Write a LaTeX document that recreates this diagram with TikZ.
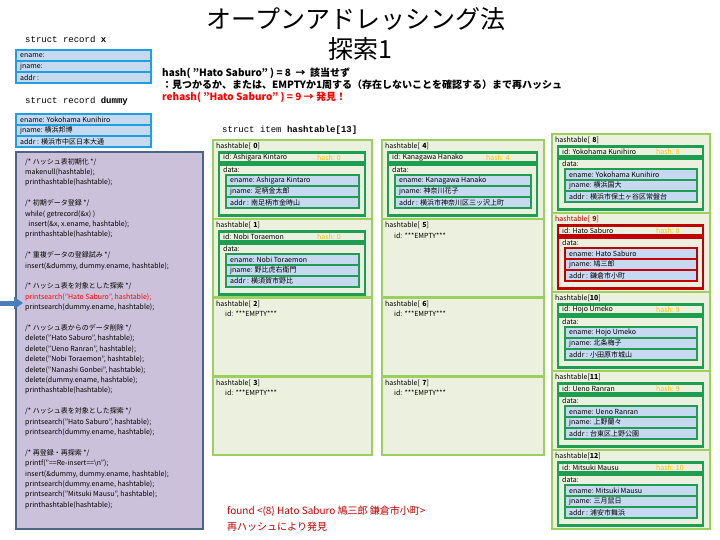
\documentclass[tikz,border=0pt]{standalone}
\usepackage{fontspec}
\setmainfont{Noto Sans CJK JP}
\newfontfamily\structfont{Liberation Mono}
\usetikzlibrary{arrows.meta}

\definecolor{cellfill}{HTML}{EBF1DE}
\definecolor{cellline}{HTML}{9BCF5E}
\definecolor{boxline}{HTML}{1E9E50}
\definecolor{recline}{HTML}{1F9FDB}
\definecolor{recfill}{HTML}{C6D9F1}
\definecolor{codefill}{HTML}{CCC1DA}
\definecolor{codeline}{HTML}{4B6587}
\definecolor{hashcol}{HTML}{FFC000}
\definecolor{hitred}{HTML}{C00000}
\definecolor{arrowblue}{HTML}{4A7EBB}

\tikzset{
  cellframe/.style={draw=cellline, fill=cellfill, line width=2.5pt},
  slotframe/.style={draw=#1, line width=2.5pt},
  codeframe/.style={draw=codeline, fill=codefill, line width=2pt},
  celltext/.style={anchor=west, inner sep=0pt, font=\fontsize{7}{8}\selectfont},
  lbltext/.style={anchor=west, inner sep=0pt, font=\fontsize{7}{8}\selectfont},
  structtext/.style={anchor=west, inner sep=0pt, font=\structfont\fontsize{9}{10}\selectfont},
  headtext/.style={anchor=west, inner sep=0pt, font=\fontsize{10}{11}\selectfont\bfseries},
  codetext/.style={anchor=north west, inner sep=0pt, align=left, font=\fontsize{7}{10.4}\selectfont},
  foundtext/.style={anchor=west, inner sep=0pt, text=hitred, font=\fontsize{10}{11}\selectfont},
  bluearrow/.style={draw=arrowblue, line width=5pt, -{Triangle[length=9pt,width=12pt]}},
}

\newcommand{\lblcol}{black}

% record box: name, left, top, right, ename, jname, addr, frame colour
\newcommand{\recbox}[8]{%
  \fill[#8] (#2,#3) rectangle (#4,#3+35);
  \fill[recfill] (#2+2,#3+2) rectangle (#4-2,#3+11);
  \fill[recfill] (#2+2,#3+13) rectangle (#4-2,#3+22);
  \fill[recfill] (#2+2,#3+24) rectangle (#4-2,#3+33);
  \node[celltext] (#1e) at (#2+5,#3+6.5) {ename: #5};
  \node[celltext] (#1j) at (#2+5,#3+17.5) {jname: #6};
  \node[celltext] (#1a) at (#2+5,#3+28.5) {addr\ : #7};
}

% filled slot: left, top, width, index, name, hash, jname, addr, frame colour
\newcommand{\fullcell}[9]{%
  \draw[cellframe] (#1,#2) rectangle (#1+#3,#2+78.8);
  \node[lbltext, text=\lblcol] (lbl#4) at (#1+3,#2+6.5) {hashtable[\ifnum#4<10 \hspace{2.5pt}\fi\textbf{#4}]};
  \draw[slotframe=#9] (#1+6,#2+12.5) rectangle (#1+#3-7,#2+22.5);
  \node[celltext] (id#4) at (#1+10,#2+17.5) {id: #5};
  \node[celltext, text=hashcol] (hash#4) at (#1+104,#2+17.5) {hash: #6};
  \draw[slotframe=#9] (#1+6,#2+25) rectangle (#1+#3-7,#2+75.5);
  \node[celltext] (data#4) at (#1+10,#2+30) {data:};
  \recbox{rec#4}{#1+12}{#2+34}{#1+#3-12}{#5}{#7}{#8}{#9}
}

% empty slot: left, top, width, index
\newcommand{\emptycell}[4]{%
  \draw[cellframe] (#1,#2) rectangle (#1+#3,#2+78.8);
  \node[lbltext] (lbl#4) at (#1+3,#2+6.5) {hashtable[\ifnum#4<10 \hspace{2.5pt}\fi\textbf{#4}]};
  \node[celltext] (id#4) at (#1+12,#2+16.5) {id: ***EMPTY***};
}

\begin{document}
\begin{tikzpicture}[x=1pt, y=-1pt]
  \useasboundingbox (0,0) rectangle (720,540);

  % title and explanation
  \node[font=\fontsize{25}{28}\selectfont] (title) at (356,19) {オープンアドレッシング法};
  \node[font=\fontsize{25}{28}\selectfont] (subtitle) at (360,49) {探索1};
  \node[headtext] (hashline) at (162,73) {hash( "Hato Saburo" ) = 8 \ → \ 該当せず};
  \node[headtext] (noteline) at (162,85) {：見つかるか、または、EMPTYか1周する（存在しないことを確認する）まで再ハッシュ};
  \node[headtext, text=red] (rehashline) at (162,97) {rehash( "Hato Saburo" ) = 9 → 発見！};

  % records x and dummy
  \node[structtext] (recx) at (25,39) {struct record \textbf{x}};
  \recbox{x}{15}{49}{152}{}{}{}{recline}
  \node[structtext] (recdummy) at (25,101) {struct record \textbf{dummy}};
  \recbox{dummy}{15}{113}{152}{Yokohama Kunihiro}{横浜邦博}{横浜市中区日本大通}{recline}

  % main program
  \draw[codeframe] (16,152) rectangle (203,529);
  \node[codetext] (code) at (25,158) {%
    /* ハッシュ表初期化 */\\
    makenull(hashtable);\\
    printhashtable(hashtable);\\[10.4pt]
    /* 初期データ登録 */\\
    while( getrecord(\&x) )\\
    \ \ insert(\&x, x.ename, hashtable);\\
    printhashtable(hashtable);\\[10.4pt]
    /* 重複データの登録試み */\\
    insert(\&dummy, dummy.ename, hashtable);\\[10.4pt]
    /* ハッシュ表を対象とした探索 */\\
    \textcolor{red}{printsearch("Hato Saburo", hashtable);}\\
    printsearch(dummy.ename, hashtable);\\[10.4pt]
    /* ハッシュ表からのデータ削除 */\\
    delete("Hato Saburo", hashtable);\\
    delete("Ueno Ranran", hashtable);\\
    delete("Nobi Toraemon", hashtable);\\
    delete("Nanashi Gonbei", hashtable);\\
    delete(dummy.ename, hashtable);\\
    printhashtable(hashtable);\\[10.4pt]
    /* ハッシュ表を対象とした探索 */\\
    printsearch("Hato Saburo", hashtable);\\
    printsearch(dummy.ename, hashtable);\\[10.4pt]
    /* 再登録・再探索 */\\
    printf("==Re-insert==\textbackslash n");\\
    insert(\&dummy, dummy.ename, hashtable);\\
    printsearch(dummy.ename, hashtable);\\
    printsearch("Mitsuki Mausu", hashtable);\\
    printhashtable(hashtable);};

  \coordinate (arrowtail) at (0,303);
  \coordinate (arrowtip) at (23,303);
  \draw[bluearrow] (arrowtail) -- (arrowtip);

  % hash table
  \node[structtext] (tabletitle) at (222,130) {struct item \textbf{hashtable[13]}};

  \fullcell{213}{140}{159}{0}{Ashigara Kintaro}{0}{足柄金太郎}{南足柄市金時山}{boxline}
  \fullcell{213}{218.8}{159}{1}{Nobi Toraemon}{0}{野比虎右衛門}{横須賀市野比}{boxline}
  \emptycell{213}{297.6}{159}{2}
  \emptycell{213}{376.4}{159}{3}

  \fullcell{382}{140}{162}{4}{Kanagawa Hanako}{4}{神奈川花子}{横浜市神奈川区三ッ沢上町}{boxline}
  \emptycell{382}{218.8}{162}{5}
  \emptycell{382}{297.6}{162}{6}
  \emptycell{382}{376.4}{162}{7}

  \fullcell{552}{134}{158}{8}{Yokohama Kunihiro}{8}{横浜国大}{横浜市保土ヶ谷区常盤台}{boxline}
  \begin{scope}
    \renewcommand{\lblcol}{hitred}
    \fullcell{552}{213}{158}{9}{Hato Saburo}{8}{鳩三郎}{鎌倉市小町}{hitred}
  \end{scope}
  \fullcell{552}{292}{158}{10}{Hojo Umeko}{9}{北条梅子}{小田原市城山}{boxline}
  \fullcell{552}{371}{158}{11}{Ueno Ranran}{9}{上野蘭々}{台東区上野公園}{boxline}
  \fullcell{552}{450}{158}{12}{Mitsuki Mausu}{10}{三月鼠日}{浦安市舞浜}{boxline}

  % result
  \node[foundtext] (found) at (227,511) {found <(8) Hato Saburo 鳩三郎 鎌倉市小町>};
  \node[foundtext] (rehashnote) at (227,527) {再ハッシュにより発見};
\end{tikzpicture}
\end{document}
